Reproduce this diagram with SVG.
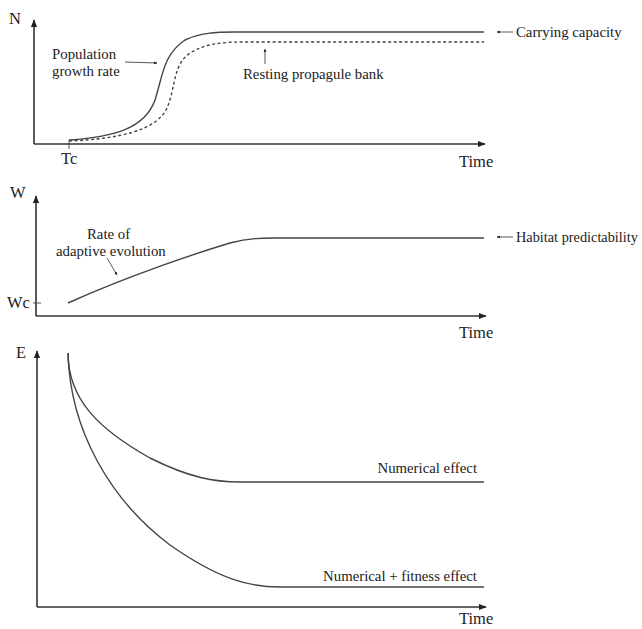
<svg xmlns="http://www.w3.org/2000/svg" width="642" height="629" viewBox="0 0 642 629">
<defs>
<style>
text{font-family:"Liberation Serif","Times New Roman",serif;font-size:14.8px;fill:#222}
.big{font-size:16.5px}
.ax{stroke:#333;stroke-width:1.6;fill:none}
.cv{stroke:#444;stroke-width:1.4;fill:none}
.ln{stroke:#444;stroke-width:0.9;fill:none}
</style>
<marker id="ah" viewBox="0 0 10 10" refX="9" refY="5" markerWidth="5" markerHeight="5" orient="auto"><path d="M0,1 L10,5 L0,9 z" fill="#222"/></marker>
<marker id="sa" viewBox="0 0 10 10" refX="9" refY="5" markerWidth="4" markerHeight="4" orient="auto"><path d="M0,1 L10,5 L0,9 z" fill="#222"/></marker>
</defs>
<rect width="642" height="629" fill="#fff"/>
<g id="panel-N">
<text class="big" x="9" y="24">N</text>
<text class="big" x="61" y="164">Tc</text>
<text class="big" x="459" y="167">Time</text>
<text x="52" y="59">Population</text>
<text x="52" y="76">growth rate</text>
<text x="243" y="79">Resting propagule bank</text>
<text x="516" y="37">Carrying capacity</text>
</g>
<g id="panel-W">
<text class="big" x="10" y="198">W</text>
<text class="big" x="7" y="308">Wc</text>
<text class="big" x="459" y="338">Time</text>
<text x="87" y="239">Rate of</text>
<text x="56" y="256">adaptive evolution</text>
<text x="516" y="242" style="font-size:14.3px">Habitat predictability</text>
</g>
<g id="panel-E">
<text class="big" x="16" y="358">E</text>
<text class="big" x="459" y="624">Time</text>
<text x="477" y="473" text-anchor="end">Numerical effect</text>
<text x="477" y="581" text-anchor="end">Numerical + fitness effect</text>
</g>
<g id="connectors">
<line class="ax" x1="34" y1="144" x2="34" y2="20" marker-end="url(#ah)"/>
<line class="ax" x1="34" y1="144" x2="485" y2="144" marker-end="url(#ah)"/>
<line class="ln" x1="69" y1="140" x2="69" y2="149"/>
<path class="cv" d="M69,140 C115,137 145,128 155,100 C163,75 163,55 185,40 C200,33 215,32 235,32 L484,32"/>
<path class="cv" stroke-dasharray="3,2.5" d="M69,141 C120,139 155,130 166,110 C176,90 172,65 190,53 C205,44 220,42 245,42 L484,42"/>
<line class="ln" x1="125" y1="62" x2="157" y2="63" marker-end="url(#sa)"/>
<line class="ln" x1="265" y1="64" x2="265" y2="49" marker-end="url(#sa)"/>
<line class="ln" x1="513" y1="32" x2="497" y2="32" marker-end="url(#sa)"/>
<line class="ax" x1="36" y1="316" x2="36" y2="196" marker-end="url(#ah)"/>
<line class="ax" x1="36" y1="316" x2="486" y2="316" marker-end="url(#ah)"/>
<line class="ln" x1="33" y1="303" x2="41" y2="303"/>
<path class="cv" d="M68,303 C130,275 200,252 230,243 C250,238 262,238 275,238 L484,238"/>
<line class="ln" x1="107" y1="258" x2="117" y2="275" marker-end="url(#sa)"/>
<line class="ln" x1="513" y1="237" x2="497" y2="237" marker-end="url(#sa)"/>
<line class="ax" x1="37" y1="607" x2="37" y2="351" marker-end="url(#ah)"/>
<line class="ax" x1="37" y1="607" x2="486" y2="607" marker-end="url(#ah)"/>
<path class="cv" d="M68,353 C68,400 100,430 150,458 C190,478 215,482 240,482 L484,482"/>
<path class="cv" d="M68,353 C70,430 110,500 170,545 C220,580 250,587 280,587 L484,587"/>
</g>
</svg>
